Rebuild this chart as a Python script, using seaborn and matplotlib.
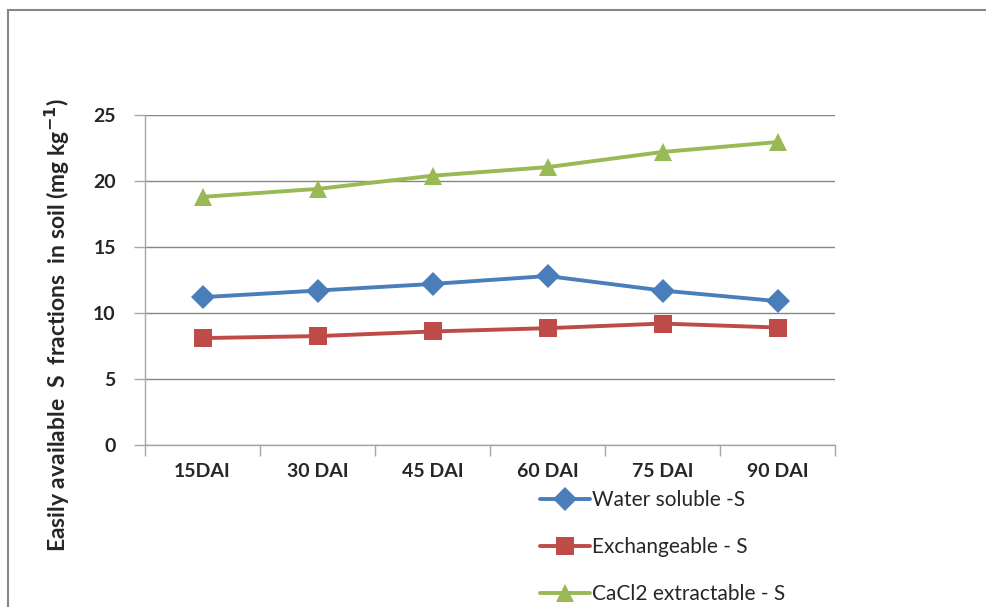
"""
Easily available S fractions in soil over days after incubation
"""
import pandas as pd
import numpy as np
import matplotlib.pyplot as plt
import seaborn as sns
from matplotlib.patches import Rectangle
from matplotlib.ticker import FixedLocator, NullFormatter

# Data
days = ['15DAI', '30 DAI', '45 DAI', '60 DAI', '75 DAI', '90 DAI']
water_soluble = [11.2, 11.7, 12.2, 12.8, 11.7, 10.9]
exchangeable = [8.1, 8.25, 8.6, 8.85, 9.2, 8.9]
cacl2_extractable = [18.8, 19.4, 20.4, 21.05, 22.2, 22.95]
series_names = ['Water soluble -S', 'Exchangeable - S', 'CaCl2 extractable - S']
y_ticks = [0, 5, 10, 15, 20, 25]

colors = {'Water soluble -S': '#4A7EBB', 'Exchangeable - S': '#BE4B48',
          'CaCl2 extractable - S': '#98B954'}
markers = {'Water soluble -S': 'D', 'Exchangeable - S': 's',
           'CaCl2 extractable - S': '^'}

df = pd.DataFrame({
    'Day': days * 3,
    'Value': water_soluble + exchangeable + cacl2_extractable,
    'Series': np.repeat(series_names, len(days)),
})

sns.set_style('white')
plt.rcParams['font.family'] = ['Lato', 'DejaVu Sans']
plt.rcParams['mathtext.default'] = 'bf'

fig = plt.figure(figsize=(9.86, 6.07), dpi=100)
ax = fig.add_axes([145 / 986, 1 - 445 / 607, 690 / 986, 330 / 607])

sns.lineplot(data=df, x='Day', y='Value', hue='Series', style='Series',
             markers=markers, dashes=False, palette=colors, ax=ax,
             linewidth=2.8, markersize=12.5, markeredgewidth=0, sort=False)

# Axes styling (Excel look)
grid_col = '#868686'
ax.set_ylim(0, 25)
ax.set_xlim(-0.5, len(days) - 0.5)
ax.yaxis.set_major_locator(FixedLocator(y_ticks))
ax.yaxis.grid(True, color=grid_col, linewidth=1)
ax.set_axisbelow(True)
for side in ['top', 'right']:
    ax.spines[side].set_visible(False)
for side in ['left', 'bottom']:
    ax.spines[side].set_color('#a6a6a6')
    ax.spines[side].set_linewidth(1)

# category boundaries as major ticks, labels on minor ticks
ax.xaxis.set_major_locator(FixedLocator(np.arange(-0.5, len(days), 1)))
ax.xaxis.set_major_formatter(NullFormatter())
ax.xaxis.set_minor_locator(FixedLocator(np.arange(len(days))))
ax.set_xticklabels(days, minor=True)
ax.tick_params(axis='x', which='major', direction='out', length=8,
               color='#a6a6a6', width=1, bottom=True)
ax.tick_params(axis='x', which='minor', length=0, pad=13, labelsize=14)
ax.tick_params(axis='y', direction='out', length=8, color='#a6a6a6',
               width=1, left=True, pad=13, labelsize=14)
for lab in ax.get_xticklabels(minor=True) + ax.get_yticklabels():
    lab.set_fontweight('bold')

ax.set_xlabel('')
ax.set_ylabel('Easily available  S  fractions  in soil (mg kg$^{-1}$)',
              fontsize=16.5, fontweight='bold')
ax.yaxis.set_label_coords(-0.106, 0.364)

handles, labels = ax.get_legend_handles_labels()
ax.legend(handles, labels, loc='upper left',
          bbox_to_anchor=(540 / 986, 1 - 490 / 607), bbox_transform=fig.transFigure,
          frameon=False, fontsize=15, handlelength=2.4, handletextpad=0.12,
          labelspacing=1.3, borderpad=0, borderaxespad=0)

# chart area border (cropped on the right and bottom)
fig.patches.append(Rectangle((8 / 986, -0.1), 1.2, 1 - 10 / 607 + 0.1,
                             transform=fig.transFigure, fill=False,
                             edgecolor='#868686', linewidth=1.5))

plt.savefig('out.png', dpi=100)
